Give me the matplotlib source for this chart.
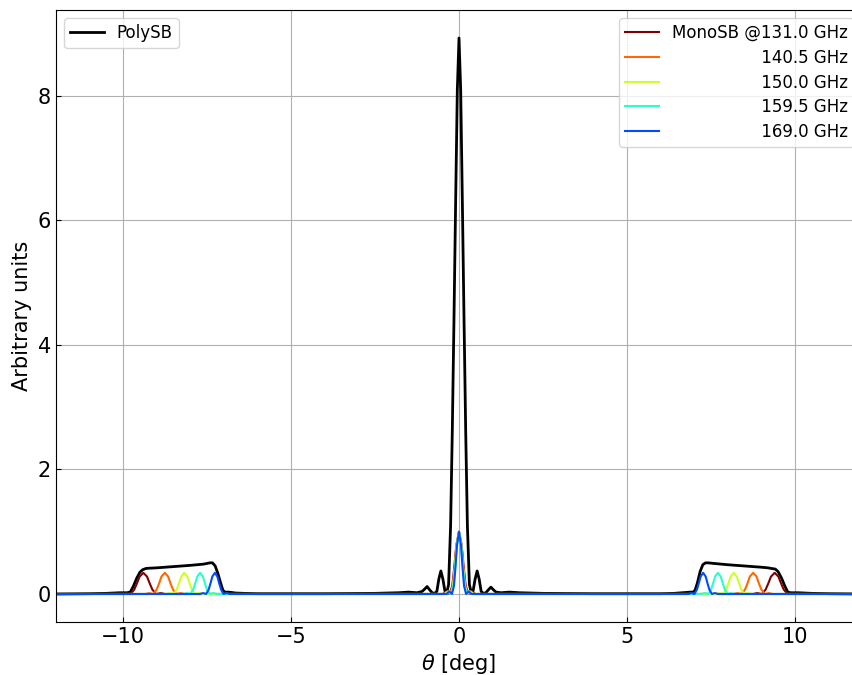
import numpy as np
from matplotlib import pyplot as plt

# PolySB (broadband) beam
poly_theta = [-12.0, -11.0, -10.5, -10.1, -9.88, -9.79, -9.7, -9.6, -9.5, -9.42, -9.32, -9.2, -9.0,
              -8.5, -8.0, -7.6, -7.42, -7.34, -7.26, -7.18, -7.1, -7.03, -6.97, -6.88, -6.78, -6.65,
              -6.4, -6.0, -4.0, -2.5, -1.8, -1.5, -1.25, -1.1, -1.02, -0.95, -0.88, -0.80, -0.73,
              -0.66, -0.60, -0.54, -0.48, -0.42, -0.37, -0.31, -0.25, -0.20, -0.15, -0.10, -0.05,
              0.0, 0.05, 0.10, 0.15, 0.20, 0.25, 0.31, 0.37, 0.42, 0.48, 0.54, 0.60, 0.66, 0.73,
              0.80, 0.88, 0.95, 1.02, 1.1, 1.25, 1.5, 1.8, 2.5, 4.0, 6.0, 6.4, 6.65, 6.78, 6.88,
              6.97, 7.03, 7.1, 7.18, 7.26, 7.34, 7.42, 7.6, 8.0, 8.5, 9.0, 9.2, 9.3, 9.42, 9.5,
              9.6, 9.7, 9.79, 9.88, 10.1, 10.5, 11.0, 12.0]
poly_amp = [0.0, 0.005, 0.01, 0.02, 0.02, 0.03, 0.12, 0.25, 0.35, 0.39, 0.41, 0.415, 0.42,
            0.44, 0.46, 0.48, 0.50, 0.50, 0.45, 0.33, 0.18, 0.06, 0.03, 0.03, 0.025, 0.015,
            0.01, 0.005, 0.005, 0.01, 0.02, 0.03, 0.02, 0.04, 0.08, 0.12, 0.07, 0.02, 0.01,
            0.04, 0.24, 0.37, 0.24, 0.05, 0.01, 0.15, 1.1, 2.6, 4.4, 6.3, 8.1,
            8.93, 8.1, 6.3, 4.4, 2.6, 1.1, 0.15, 0.01, 0.05, 0.24, 0.37, 0.24, 0.04, 0.01,
            0.02, 0.07, 0.11, 0.07, 0.03, 0.02, 0.03, 0.02, 0.01, 0.005, 0.005, 0.01, 0.02, 0.025, 0.03,
            0.03, 0.06, 0.18, 0.36, 0.47, 0.50, 0.50, 0.49, 0.47, 0.45, 0.43, 0.42, 0.41, 0.40, 0.36,
            0.26, 0.13, 0.03, 0.02, 0.02, 0.01, 0.005, 0.0]

# MonoSB beams, one per frequency
freqs = [131.0, 140.5, 150.0, 159.5, 169.0]

theta_131 = [-12.0, -10.05, -9.78, -9.67, -9.59, -9.51, -9.40, -9.29, -9.21, -9.13, -9.02, -8.88, -8.75,
             -0.48, -0.38, -0.28, -0.20, -0.14, -0.08, 0.0, 0.08, 0.14, 0.20, 0.28, 0.38, 0.48,
             8.75, 8.88, 9.02, 9.13, 9.21, 9.29, 9.40, 9.51, 9.59, 9.67, 9.78, 10.05, 12.0]
amp_131 = [0.0, 0.0, 0.0, 0.07, 0.17, 0.28, 0.34, 0.28, 0.17, 0.07, 0.0, 0.015, 0.0,
           0.0, 0.04, 0.0, 0.13, 0.43, 0.78, 1.0, 0.78, 0.43, 0.13, 0.0, 0.04, 0.0,
           0.0, 0.015, 0.0, 0.07, 0.17, 0.28, 0.34, 0.28, 0.17, 0.07, 0.0, 0.0, 0.0]

theta_140 = [-12.0, -9.35, -9.22, -9.105, -9.005, -8.93, -8.86, -8.76, -8.66, -8.59, -8.515, -8.415, -8.29, -8.17,
             -0.45, -0.355, -0.26, -0.185, -0.13, -0.075, 0.0, 0.075, 0.13, 0.185, 0.26, 0.355, 0.45,
             8.17, 8.29, 8.415, 8.515, 8.59, 8.66, 8.76, 8.86, 8.93, 9.005, 9.105, 9.22, 9.35, 12.0]
amp_140 = [0.0, 0.0, 0.015, 0.0, 0.07, 0.17, 0.28, 0.34, 0.28, 0.17, 0.07, 0.0, 0.015, 0.0,
           0.0, 0.04, 0.0, 0.13, 0.43, 0.78, 1.0, 0.78, 0.43, 0.13, 0.0, 0.04, 0.0,
           0.0, 0.015, 0.0, 0.07, 0.17, 0.28, 0.34, 0.28, 0.17, 0.07, 0.0, 0.015, 0.0, 0.0]

theta_150 = [-12.0, -8.72, -8.61, -8.495, -8.405, -8.34, -8.27, -8.18, -8.09, -8.02, -7.955, -7.865, -7.75, -7.64,
             -0.42, -0.335, -0.245, -0.175, -0.12, -0.07, 0.0, 0.07, 0.12, 0.175, 0.245, 0.335, 0.42,
             7.64, 7.75, 7.865, 7.955, 8.02, 8.09, 8.18, 8.27, 8.34, 8.405, 8.495, 8.61, 8.72, 12.0]
amp_150 = [0.0, 0.0, 0.015, 0.0, 0.07, 0.17, 0.28, 0.34, 0.28, 0.17, 0.07, 0.0, 0.015, 0.0,
           0.0, 0.04, 0.0, 0.13, 0.43, 0.78, 1.0, 0.78, 0.43, 0.13, 0.0, 0.04, 0.0,
           0.0, 0.015, 0.0, 0.07, 0.17, 0.28, 0.34, 0.28, 0.17, 0.07, 0.0, 0.015, 0.0, 0.0]

theta_159 = [-12.0, -8.20, -8.10, -8.0, -7.915, -7.855, -7.795, -7.71, -7.625, -7.565, -7.505, -7.42, -7.32, -7.22,
             -0.39, -0.31, -0.23, -0.165, -0.115, -0.065, 0.0, 0.065, 0.115, 0.165, 0.23, 0.31, 0.39,
             7.22, 7.32, 7.42, 7.505, 7.565, 7.625, 7.71, 7.795, 7.855, 7.915, 8.0, 8.10, 8.20, 12.0]
amp_159 = [0.0, 0.0, 0.015, 0.0, 0.07, 0.17, 0.28, 0.34, 0.28, 0.17, 0.07, 0.0, 0.015, 0.0,
           0.0, 0.04, 0.0, 0.13, 0.43, 0.78, 1.0, 0.78, 0.43, 0.13, 0.0, 0.04, 0.0,
           0.0, 0.015, 0.0, 0.07, 0.17, 0.28, 0.34, 0.28, 0.17, 0.07, 0.0, 0.015, 0.0, 0.0]

theta_169 = [-12.0, -7.71, -7.62, -7.53, -7.455, -7.40, -7.345, -7.27, -7.195, -7.14, -7.085, -7.01, -6.92, -6.83,
             -0.37, -0.29, -0.21, -0.15, -0.105, -0.06, 0.0, 0.06, 0.105, 0.15, 0.21, 0.29, 0.37,
             6.83, 6.92, 7.01, 7.085, 7.14, 7.195, 7.27, 7.345, 7.40, 7.455, 7.53, 7.62, 7.71, 12.0]
amp_169 = [0.0, 0.0, 0.015, 0.0, 0.07, 0.17, 0.28, 0.34, 0.28, 0.17, 0.07, 0.0, 0.015, 0.0,
           0.0, 0.04, 0.0, 0.13, 0.43, 0.78, 1.0, 0.78, 0.43, 0.13, 0.0, 0.04, 0.0,
           0.0, 0.015, 0.0, 0.07, 0.17, 0.28, 0.34, 0.28, 0.17, 0.07, 0.0, 0.015, 0.0, 0.0]

mono_theta = [theta_131, theta_140, theta_150, theta_159, theta_169]
mono_amp = [amp_131, amp_140, amp_150, amp_159, amp_169]


def main():
    fig = plt.figure(figsize=(8.52, 6.75), dpi=100)
    # right spine sits just outside the picture, like the reference crop
    ax = fig.add_axes([56 / 852, 53 / 675, 806 / 852, 612 / 675])

    poly_line, = ax.plot(poly_theta, poly_amp, color='black', lw=2)

    colors = plt.cm.jet(np.linspace(1.0, 0.2, len(freqs)))
    mono_lines = []
    labels = []
    for i in range(len(freqs)):
        line, = ax.plot(mono_theta[i], mono_amp[i], color=colors[i], lw=1.5)
        mono_lines.append(line)
        if i == 0:
            labels.append(f"MonoSB @{freqs[i]:.1f} GHz")
        else:
            labels.append(" " * 17 + f"{freqs[i]:.1f} GHz")

    leg1 = ax.legend([poly_line], ["PolySB"], loc='upper left', fontsize=12,
                     labelspacing=0.4, borderpad=0.35)
    ax.add_artist(leg1)
    ax.legend(mono_lines, labels, loc='upper right', fontsize=12,
              labelspacing=0.4, borderpad=0.35)

    ax.set_xlim(-12, 12)
    ax.set_ylim(-0.45, 9.38)
    ax.grid(True)
    ax.tick_params(direction='in', labelsize=15)
    ax.set_xlabel(r'$\theta$ [deg]', fontsize=15)
    ax.set_ylabel('Arbitrary units', fontsize=15)

    fig.savefig('out.png', dpi=100)


main()
